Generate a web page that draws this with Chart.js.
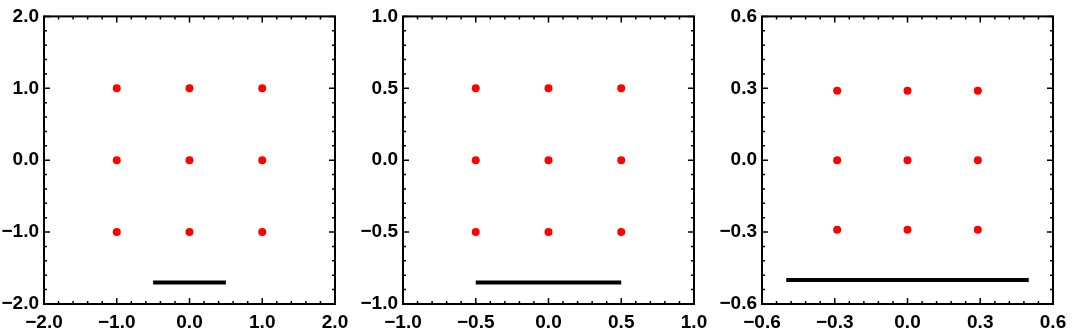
<!DOCTYPE html>
<html>
<head>
<meta charset="utf-8">
<script src="https://cdn.jsdelivr.net/npm/chart.js@4.4.1/dist/chart.umd.min.js"></script>
<style>
  html, body { margin: 0; padding: 0; background: #fff; }
  #wrap { position: relative; width: 1090px; height: 332px; overflow: hidden; }
  #wrap canvas { position: absolute; top: 0; }
</style>
</head>
<body>
<div id="wrap">
  <canvas id="c1" width="360" height="332" style="left:0px"></canvas>
  <canvas id="c2" width="360" height="332" style="left:359px"></canvas>
  <canvas id="c3" width="360" height="332" style="left:718px"></canvas>
</div>
<script>
// grid point coordinates per panel (same for x and y)
const gridVals1 = [-1, 0, 1];
const gridVals2 = [-0.5, 0, 0.5];
const gridVals3 = [-0.29, 0, 0.29];

// black bar: y level and x extent
const barY = [-1.7, -0.85, -0.5];
const barX = [[-0.5, 0.5], [-0.5, 0.5], [-0.5, 0.5]];

// axis range and tick labels
const axisLimit = [2, 1, 0.6];
const ticks1 = [-2, -1, 0, 1, 2];
const ticks2 = [-1, -0.5, 0, 0.5, 1];
const ticks3 = [-0.6, -0.3, 0, 0.3, 0.6];
const minorStep = [0.2, 0.1, 0.06];

const FONT = { family: "'Liberation Sans', Arial, sans-serif", size: 19, weight: "bold" };

function fmtTick(v){
  const s = Number(v).toFixed(1);
  return s.replace("-", "\u2212");
}

function gridPoints(vals){
  const pts = [];
  vals.forEach(y=>{
    vals.forEach(x=> pts.push({ x: x, y: y }));
  });
  return pts;
}

// Mathematica-like frame with inward ticks on all four sides
const framePlugin = {
  id: "frame",
  afterDraw(chart, args, opts){
    const { ctx, chartArea: a } = chart;
    const sx = chart.scales.x, sy = chart.scales.y;
    const lim = opts.limit, step = opts.step, majors = opts.majors;
    ctx.save();
    ctx.strokeStyle = "#000";
    ctx.lineWidth = 1.5;
    ctx.beginPath();
    const vals = [];
    for (let v = -lim; v <= lim + 1e-9; v += step) vals.push(v);
    const mark = (v, len)=>{
      const px = sx.getPixelForValue(v);
      ctx.moveTo(px, a.bottom); ctx.lineTo(px, a.bottom - len);
      ctx.moveTo(px, a.top); ctx.lineTo(px, a.top + len);
      const py = sy.getPixelForValue(v);
      ctx.moveTo(a.left, py); ctx.lineTo(a.left + len, py);
      ctx.moveTo(a.right, py); ctx.lineTo(a.right - len, py);
    };
    vals.forEach(v=> mark(v, 3));
    majors.forEach(v=> mark(v, 6));
    ctx.stroke();
    ctx.lineWidth = 2;
    ctx.strokeRect(a.left, a.top, a.right - a.left, a.bottom - a.top);
    ctx.restore();
  }
};

function makePanel(id, vals, by, bx, lim, tickVals, step){
  return new Chart(document.getElementById(id), {
    type: "scatter",
    data: {
      datasets: [
        {
          data: gridPoints(vals),
          backgroundColor: "#ff0000",
          borderWidth: 0,
          pointRadius: 4,
          pointHoverRadius: 4
        },
        {
          data: [{ x: bx[0], y: by }, { x: bx[1], y: by }],
          showLine: true,
          borderColor: "#000",
          borderWidth: 4,
          borderCapStyle: "butt",
          pointRadius: 0,
          pointHoverRadius: 0
        }
      ]
    },
    options: {
      responsive: false,
      animation: false,
      events: [],
      layout: { padding: { left: 0, right: 25, top: 14, bottom: 0 } },
      plugins: {
        legend: { display: false },
        tooltip: { enabled: false },
        frame: { limit: lim, step: step, majors: tickVals }
      },
      scales: {
        x: {
          type: "linear",
          min: -lim, max: lim,
          grid: { display: false, drawTicks: false },
          border: { display: false },
          afterBuildTicks: s=>{ s.ticks = tickVals.map(v=>({ value: v })); },
          afterFit: s=>{ s.height = 28; },
          ticks: { color: "#000", font: FONT, padding: 7, maxRotation: 0, autoSkip: false, callback: v=> fmtTick(v) }
        },
        y: {
          type: "linear",
          min: -lim, max: lim,
          grid: { display: false, drawTicks: false },
          border: { display: false },
          afterBuildTicks: s=>{ s.ticks = tickVals.map(v=>({ value: v })); },
          afterFit: s=>{ s.width = 44; },
          ticks: { color: "#000", font: FONT, padding: 5, autoSkip: false, callback: v=> fmtTick(v) }
        }
      }
    },
    plugins: [framePlugin]
  });
}

makePanel("c1", gridVals1, barY[0], barX[0], axisLimit[0], ticks1, minorStep[0]);
makePanel("c2", gridVals2, barY[1], barX[1], axisLimit[1], ticks2, minorStep[1]);
makePanel("c3", gridVals3, barY[2], barX[2], axisLimit[2], ticks3, minorStep[2]);
</script>
</body>
</html>
